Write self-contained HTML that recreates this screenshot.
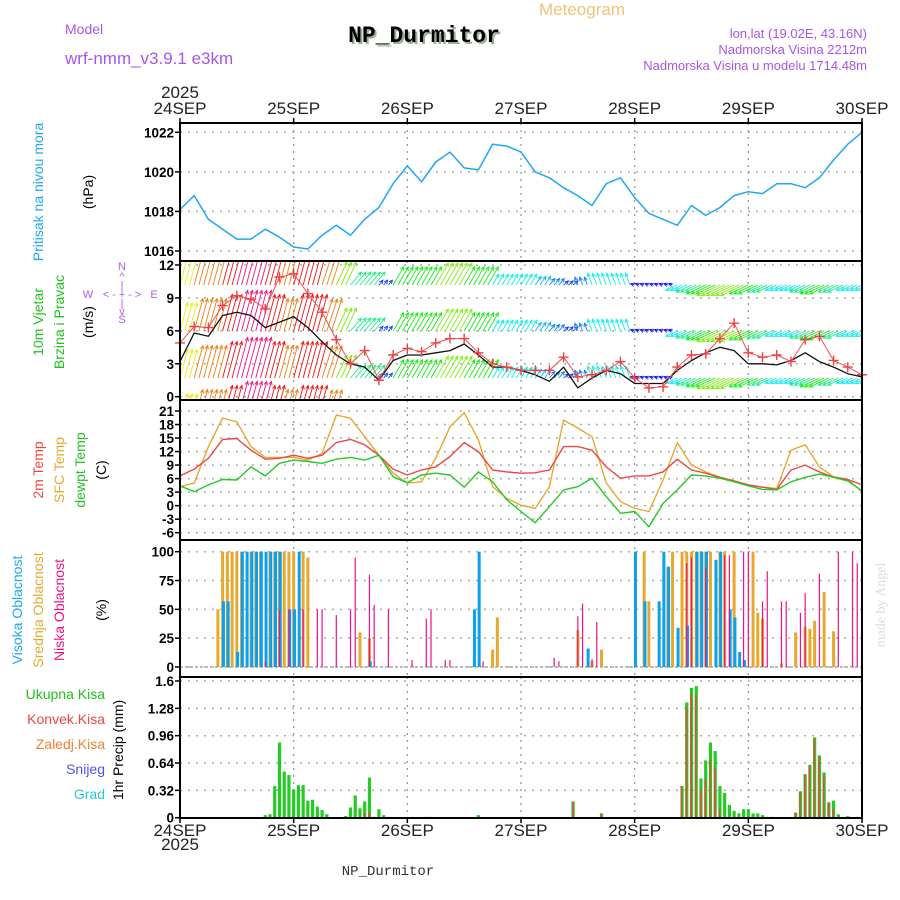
<!DOCTYPE html>
<html><head><meta charset="utf-8">
<style>
html,body{margin:0;padding:0;background:#fff;}
svg{display:block;font-family:"Liberation Sans",sans-serif;}
.tk{font-size:13.5px;font-weight:bold;fill:#000;text-anchor:end;}
.dl{font-size:17px;fill:#222;text-anchor:middle;}
</style></head>
<body>
<svg id="chart" width="900" height="900" viewBox="0 0 900 900" xmlns="http://www.w3.org/2000/svg">
<text x="582" y="15" font-size="17" fill="#f2c27a" text-anchor="middle">Meteogram</text>
<text x="65" y="34" font-size="14" fill="#a855e8">Model</text>
<text x="426" y="44" font-size="23" font-weight="bold" fill="#9ab09a" text-anchor="middle" font-family="Liberation Mono, monospace">NP_Durmitor</text>
<text x="424" y="42" font-size="23" font-weight="bold" fill="#000" text-anchor="middle" font-family="Liberation Mono, monospace">NP_Durmitor</text>
<text x="65" y="64" font-size="17" fill="#a855e8">wrf‑nmm_v3.9.1 e3km</text>
<text x="867" y="38" font-size="13" fill="#a855e8" text-anchor="end">lon,lat (19.02E, 43.16N)</text>
<text x="867" y="54" font-size="13" fill="#a855e8" text-anchor="end">Nadmorska Visina 2212m</text>
<text x="867" y="70" font-size="13" fill="#a855e8" text-anchor="end">Nadmorska Visina u modelu 1714.48m</text>
<text x="180" y="98" class="dl">2025</text>
<text x="180" y="850" class="dl">2025</text>
<text x="388" y="875" font-size="14" fill="#333" text-anchor="middle" font-family="Liberation Mono, monospace">NP_Durmitor</text>
<text transform="translate(885,605) rotate(-90)" font-size="14" fill="#d8e0d8" text-anchor="middle" font-family="Liberation Serif, serif">made by Angel</text>

<text transform="translate(43,192) rotate(-90)" font-size="14" fill="#1fa8f0" text-anchor="middle">Pritisak na nivou mora</text>
<text transform="translate(93,192) rotate(-90)" font-size="14" fill="#000" text-anchor="middle">(hPa)</text>
<text transform="translate(43,322) rotate(-90)" font-size="14" fill="#22c022" text-anchor="middle">10m Vjetar</text>
<text transform="translate(64,322) rotate(-90)" font-size="14" fill="#22c022" text-anchor="middle">Brzina i Pravac</text>
<text transform="translate(93,322) rotate(-90)" font-size="14" fill="#000" text-anchor="middle">(m/s)</text>
<g fill="#b060e0" font-size="11" text-anchor="middle">
<text x="122" y="270">N</text><text x="122" y="280">^</text><text x="122" y="289">|</text>
<text x="88" y="298">W</text><text x="106" y="298">&lt;</text><text x="114" y="298">-</text><text x="122" y="298">+</text><text x="130" y="298">-</text><text x="138" y="298">&gt;</text><text x="154" y="298">E</text>
<text x="122" y="307">|</text><text x="122" y="315">v</text><text x="122" y="323">S</text></g>
<text transform="translate(43,470) rotate(-90)" font-size="14" fill="#f04545" text-anchor="middle">2m Temp</text>
<text transform="translate(64,470) rotate(-90)" font-size="14" fill="#e8a830" text-anchor="middle">SFC Temp</text>
<text transform="translate(85,470) rotate(-90)" font-size="14" fill="#22c022" text-anchor="middle">dewpt Temp</text>
<text transform="translate(106,470) rotate(-90)" font-size="14" fill="#000" text-anchor="middle">(C)</text>
<text transform="translate(22,610) rotate(-90)" font-size="14" fill="#1fa8f0" text-anchor="middle">Visoka Oblacnost</text>
<text transform="translate(43,610) rotate(-90)" font-size="14" fill="#e8a830" text-anchor="middle">Srednja Oblacnost</text>
<text transform="translate(64,610) rotate(-90)" font-size="14" fill="#ee1188" text-anchor="middle">Niska Oblacnost</text>
<text transform="translate(106,610) rotate(-90)" font-size="14" fill="#000" text-anchor="middle">(%)</text>
<g font-size="14" text-anchor="end">
<text x="105" y="699" fill="#22c022">Ukupna Kisa</text>
<text x="105" y="724" fill="#f04545">Konvek.Kisa</text>
<text x="105" y="749" fill="#f08030">Zaledj.Kisa</text>
<text x="105" y="774" fill="#5050f0">Snijeg</text>
<text x="105" y="799" fill="#20c8d8">Grad</text></g>
<text transform="translate(123,750) rotate(-90)" font-size="14" fill="#000" text-anchor="middle">1hr Precip (mm)</text>
</svg>
<script>
const dayLabels=["24SEP","25SEP","26SEP","27SEP","28SEP","29SEP","30SEP"];
const pressure=[1018.1,1018.8,1017.6,1017.1,1016.6,1016.6,1017.1,1016.7,1016.2,1016.1,1016.8,1017.3,1016.8,1017.6,1018.2,1019.4,1020.3,1019.5,1020.5,1021.0,1020.2,1020.1,1021.4,1021.3,1021.0,1020.0,1019.7,1019.2,1018.8,1018.3,1019.4,1019.7,1018.7,1017.9,1017.6,1017.3,1018.3,1017.8,1018.2,1018.8,1019.0,1018.9,1019.4,1019.4,1019.2,1019.7,1020.6,1021.4,1022.0];
const temp2m=[6.6,8.1,10.5,14.7,14.9,12.3,10.3,10.5,11.2,10.5,11.2,14.0,14.7,13.5,11.2,8.1,6.8,7.9,8.6,10.9,14.0,12.0,7.9,7.5,7.2,7.3,7.9,13.1,13.1,12.3,8.6,6.1,6.6,6.6,7.5,10.3,7.9,7.2,6.3,5.5,4.6,4.1,3.6,7.9,9.0,7.5,6.3,5.8,4.6];
const tempSfc=[4.2,5.0,13.1,19.4,18.6,13.1,10.7,10.7,10.7,10.1,11.6,20.1,19.4,15.3,11.2,7.2,5.0,5.3,10.5,17.5,20.6,14.6,4.2,1.6,0.1,-0.6,4.2,19.0,17.2,15.3,5.0,0.9,-0.6,-1.3,5.7,14.0,9.0,7.5,6.3,5.5,4.6,4.1,3.8,12.3,13.5,8.6,6.4,5.8,3.1];
const dewpt=[4.4,3.1,4.6,5.8,5.7,8.6,6.6,9.4,10.1,9.8,9.4,10.3,10.7,10.1,11.2,6.4,5.1,6.8,7.2,6.8,4.1,7.5,5.3,1.3,-1.3,-3.8,-0.2,3.5,4.2,6.1,2.0,-1.7,-1.3,-4.7,0.5,3.5,6.8,6.6,6.1,5.3,4.4,3.6,3.5,5.3,6.3,7.0,6.3,5.5,3.3];
const windSpeed=[3.2,5.8,5.5,7.4,7.7,7.4,6.3,6.8,7.3,6.3,5.0,3.8,3.0,2.7,1.5,3.3,3.8,3.8,4.0,4.2,4.8,3.8,2.7,2.7,2.4,2.0,1.4,2.7,0.8,1.7,2.4,2.1,1.2,1.2,1.2,2.4,3.3,4.0,4.5,4.2,3.0,3.0,2.9,3.3,4.0,3.2,2.7,2.1,1.8];
const windGust=[4.9,6.4,6.3,8.3,9.2,8.9,8.0,10.9,11.2,9.4,7.7,5.2,3.0,4.2,1.5,3.8,4.4,4.1,4.9,5.3,5.3,4.0,3.0,2.7,2.4,2.4,2.4,3.6,1.8,2.0,2.4,3.2,1.7,0.8,0.9,2.7,3.8,3.9,5.3,6.7,4.0,3.6,3.8,3.2,5.2,5.5,3.3,2.7,2.0];
const arrowSpeed=[7,8,8,9,10,10,9,8,9,9,8,6,4,4,1.5,5,5,5,6,6,5,5,3,3,3,2.5,2,1.5,2,3,3,3,1,1,1,3,4,5,6,6,5,4,3,3,4,5,4,3,3];
const arrowDir=[15,15,15,15,15,15,15,15,15,15,18,25,40,40,40,30,30,30,30,30,30,30,30,30,30,35,40,50,340,340,340,340,290,290,290,245,245,245,245,245,245,245,245,245,245,245,245,245,245];
const midHr=[8,9,10,11,12,13,15,16,17,19,20,21,22,23,24,26,27,38,40,66,67,84,87,89,98,99,103,104,106,107,108,109,110,111,112,114,115,117,121,122,123,127,130,132,133,134,136,138];
const midVal=[50,100,100,100,100,100,100,100,100,100,100,100,100,100,100,100,95,30,25,15,43,32,5,15,100,57,87,100,100,100,100,100,100,100,100,100,100,100,100,47,42,3,30,35,33,40,65,31];
const highHr=[9,10,12,13,14,15,16,17,18,19,20,21,23,24,25,40,62,63,86,96,98,101,102,103,105,107,109,110,111,113,114,116,117,118,119];
const highVal=[57,57,13,100,100,100,100,100,100,100,100,100,50,50,100,5,50,100,16,100,57,57,100,87,34,36,100,100,100,93,100,50,43,13,6];
const lowHr=[18,21,23,26,29,30,33,36,37,40,41,44,49,52,53,56,57,64,79,80,84,85,87,88,107,108,111,115,116,119,120,123,124,127,128,131,132,135,139,142,143];
const lowVal=[5,49,50,50,50,50,45,50,95,80,54,50,6,42,50,6,6,5,8,5,44,55,7,39,90,95,86,97,97,100,100,57,83,57,57,47,64,81,100,100,90];
const precipHr=[18,19,20,21,22,23,24,25,26,27,28,29,30,31,35,36,37,38,39,40,41,42,43,44,52,53,63,83,89,106,107,108,109,110,111,112,113,114,115,116,117,118,119,120,121,122,123,124,125,130,131,132,133,134,135,136,137,138,139,140,141,143];
const precipTotal=[0.03,0.04,0.37,0.88,0.54,0.5,0.33,0.38,0.38,0.2,0.21,0.13,0.09,0.04,0.02,0.12,0.26,0.11,0.19,0.47,0.01,0.1,0.03,0.01,0.01,0.01,0.03,0.19,0.05,0.37,1.35,1.52,1.54,0.46,0.67,0.88,0.78,0.37,0.29,0.15,0.08,0.05,0.1,0.1,0.05,0.05,0.03,0.01,0.01,0.06,0.31,0.51,0.62,0.94,0.73,0.53,0.18,0.2,0.04,0.01,0.02,0.01];
const convHr=[39,40,83,89,106,107,108,109,110,111,112,113,114,130,131,132,133,134,135,136,137,138];
const convVal=[0.05,0.06,0.19,0.05,0.37,1.3,1.45,1.44,0.33,0.45,0.68,0.58,0.1,0.06,0.3,0.5,0.6,0.93,0.7,0.5,0.17,0.1];
const pTicks=[1016,1018,1020,1022];
const wTicks=[0,3,6,9,12];
const tTicks=[-6,-3,0,3,6,9,12,15,18,21];
const cTicks=[0,25,50,75,100];
const rTicks=[0,0.32,0.64,0.96,1.28,1.6];

const NS="http://www.w3.org/2000/svg";
const svg=document.getElementById('chart');
function mk(tag,attrs,parent){const e=document.createElementNS(NS,tag);for(const k in attrs)e.setAttribute(k,attrs[k]);(parent||svg).appendChild(e);return e;}
const X0=180,X1=862,HRS=144;
const xH=h=>X0+(X1-X0)*h/HRS;
const xK=k=>xH(k*3);
function lin(v0,y0,v1,y1){return v=>y0+(v-v0)*(y1-y0)/(v1-v0);}
const yP=lin(1016,251,1022,132.3);
const yW=lin(0,396.7,12,265);
const yT=lin(-6,532.7,21,411);
const yC=lin(0,667,100,551.7);
const yR=lin(0,817.7,1.6,681);
const panels=[
 {n:'pressure',top:123,bot:261,ticks:pTicks,y:yP,fmt:v=>v},
 {n:'wind',top:261,bot:400,ticks:wTicks,y:yW,fmt:v=>v},
 {n:'temperature',top:400,bot:540,ticks:tTicks,y:yT,fmt:v=>v},
 {n:'cloud',top:540,bot:677,ticks:cTicks,y:yC,fmt:v=>v},
 {n:'precip',top:677,bot:818,ticks:rTicks,y:yR,fmt:v=>v===0?'0':String(v)}];
panels.forEach(p=>{
 const g=mk('g',{});
 
 
 for(let d=1;d<6;d++){const x=xH(d*24);mk('line',{x1:x,x2:x,y1:p.top,y2:p.bot,stroke:'#999','stroke-width':1.3,'stroke-dasharray':'2,5'},g);}
 p.ticks.forEach(t=>{const y=p.y(t);
  if(y>p.top+2&&y<p.bot-2)mk('line',{x1:X0,x2:X1,y1:y,y2:y,stroke:'#aaa','stroke-width':1.5,'stroke-dasharray':'2,6'},g);
  mk('line',{x1:X0-5,x2:X0,y1:y,y2:y,stroke:'#000','stroke-width':1.5},g);
  const t2=mk('text',{x:X0-6,y:y+5,class:'tk'},g);t2.textContent=p.fmt(t);
  
  
 });
});
dayLabels.forEach((d,i)=>{const x=xH(i*24);
 const a=mk('text',{x:x,y:114,class:'dl'});a.textContent=d;
 
 
 const b=mk('text',{x:x,y:836,class:'dl'});b.textContent=d;
 
 
 mk('line',{x1:x,x2:x,y1:118,y2:123,stroke:'#000','stroke-width':1.5});
 mk('line',{x1:x,x2:x,y1:818,y2:823,stroke:'#000','stroke-width':1.5});
});
function poly(arr,yf,color,name,w){const pts=arr.map((v,k)=>xK(k).toFixed(1)+','+yf(v).toFixed(1)).join(' ');
 const e=mk('polyline',{points:pts,fill:'none',stroke:color,'stroke-width':w||1.5,'stroke-linejoin':'round'});
 
 return e;}
// wind arrows
const wg=mk('g',{});


const clip=mk('clipPath',{id:'wclip'});mk('rect',{x:X0,y:262,width:X1-X0,height:137},clip);
wg.setAttribute('clip-path','url(#wclip)');
const rowBase=[285,331,378,422];
rowBase.forEach(b=>{arrowSpeed.forEach((s,k)=>{
 const hue=((270-Math.min(s,10.5)*30)+360)%360;const col='hsl('+hue+',85%,50%)';
 const L=Math.min(s*4.2,44);const a=arrowDir[k]*Math.PI/180;
 for(let j=0;j<3;j++){const x=xH(k*3+j);const dx=Math.sin(a)*L,dy=-Math.cos(a)*L;
  mk('line',{x1:x,y1:b,x2:x+dx,y2:b+dy,stroke:col,'stroke-width':0.9},wg);
  const ang=Math.atan2(dy,dx);const hx=x+dx,hy=b+dy;
  mk('polyline',{points:(hx-4*Math.cos(ang-0.45))+','+(hy-4*Math.sin(ang-0.45))+' '+hx+','+hy+' '+(hx-4*Math.cos(ang+0.45))+','+(hy-4*Math.sin(ang+0.45)),fill:'none',stroke:col,'stroke-width':0.9},wg);
 }});});
poly(windSpeed,yW,'#111','wind-speed-line',1.3);
poly(windGust,yW,'#f05050','wind-gust-line',1);
const gg=mk('g',{});


windGust.forEach((v,k)=>{const x=xK(k),y=yW(v);
 mk('path',{d:`M${x-5},${y}H${x+5}M${x},${y-5}V${y+5}`,stroke:'#f04040','stroke-width':1.4},gg);});
// pressure & temps
poly(pressure,yP,'#1fa8f0','pressure-line',1.5);
poly(tempSfc,yT,'#e8a830','sfc-temp-line',1.4);
poly(temp2m,yT,'#f04545','temp2m-line',1.4);
poly(dewpt,yT,'#22cc22','dewpoint-line',1.4);
// cloud bars
function bars(hrs,vals,yf,col,w,off,name){const g=mk('g',{});
 
 
 hrs.forEach((h,i)=>{const x=xH(h)+off;const y=yf(vals[i]);const y0=yf(0);
  mk('rect',{x:x-w/2,y:y,width:w,height:Math.max(0,y0-y),fill:col},g);});}
mk('line',{x1:X0,x2:X1,y1:yC(0),y2:yC(0),stroke:'#bbb','stroke-width':2,'stroke-dasharray':'3,2'});
bars(midHr,midVal,yC,'#e8a830',3,0,'mid-cloud-bars');
bars(highHr,highVal,yC,'#0aa0f0',3,0.8,'high-cloud-bars');
bars(lowHr,lowVal,yC,'#ee1188',1.2,0,'low-cloud-bars');
// precip
bars(precipHr,precipTotal,yR,'#22cc22',3.2,0,'total-precip-bars');
bars(convHr,convVal,yR,'#f04040',1.4,-0.4,'convective-precip-bars');
// frames
panels.forEach(p=>{const r=mk('rect',{x:X0,y:p.top,width:X1-X0,height:p.bot-p.top,fill:'none',stroke:'#000','stroke-width':2});
 
 });
</script>
</body></html>
